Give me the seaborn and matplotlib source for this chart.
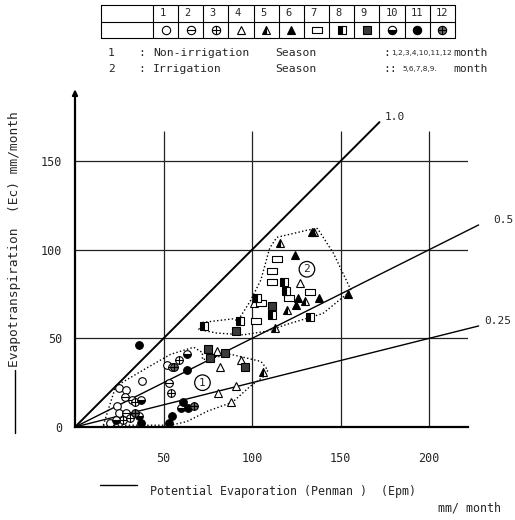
import matplotlib
matplotlib.use('Agg')
import matplotlib.pyplot as plt
from matplotlib.path import Path
from matplotlib.lines import Line2D
import numpy as np
import pandas as pd
import seaborn as sns

sns.set_theme(style='white')
plt.rcParams['font.family'] = ['DejaVu Sans Mono', 'DejaVu Sans']

# ---- data (Epm, Ec in mm/month) ----
point_month = [1, 1, 1, 1, 1, 1, 1,
               2, 2, 2, 2, 2,
               3, 3, 3, 3, 3,
               4, 4, 4, 4, 4, 4, 4, 4,
               5, 5, 5, 5, 5, 5,
               6, 6, 6, 6, 6, 6,
               7, 7, 7, 7, 7, 7, 7,
               8, 8, 8, 8, 8, 8, 8,
               9, 9, 9, 9, 9, 9,
               10, 10, 10, 10, 10,
               11, 11, 11, 11, 11, 11, 11,
               12, 12, 12]
point_epm = [25, 29, 24, 25, 20, 38, 52,
             28, 32, 29, 55, 53,
             34, 27, 31, 59, 54,
             80, 82, 94, 81, 91, 88, 101, 127,
             116, 120, 113, 106, 130, 135,
             134, 124, 126, 138, 125, 154,
             114, 111, 111, 133, 121, 105, 102,
             118, 119, 103, 111, 133, 93, 73,
             111, 91, 75, 85, 76, 96,
             36, 37, 23, 63, 60,
             36, 37, 53, 55, 61, 64, 63,
             67, 34, 56]
point_ec = [22, 21, 12, 8, 2, 26, 35,
            17, 15, 8, 34, 25,
            14, 4, 5, 38, 19,
            43, 34, 38, 19, 23, 14, 70, 81,
            104, 66, 56, 31, 71, 110,
            110, 97, 73, 73, 69, 75,
            95, 88, 82, 76, 73, 70, 60,
            82, 77, 73, 63, 62, 60, 57,
            68, 54, 44, 42, 39, 34,
            6, 15, 4, 41, 11,
            46, 2, 2, 6, 14, 11, 32,
            12, 8, 34]

ratios = [1.0, 0.5, 0.25]
ratio_labels = ['1.0', '0.5', '0.25']
ratio_end_epm = [172, 228, 228]

env1_epm = [16, 23, 40, 54, 67, 72, 72, 88, 105, 109, 106, 99, 89, 75, 63, 54, 30, 16]
env1_ec = [1, 23, 33, 41, 45, 42, 38, 41, 37, 32, 28, 23, 14, 9, 3, 1, 1, 1]
env2_epm = [72, 89, 92, 99, 105, 110, 114, 131, 137, 146, 156, 140, 120, 108, 95, 80, 70, 72]
env2_ec = [59, 61, 60, 71, 83, 101, 107, 111, 112, 98, 77, 64, 58, 54, 52, 53, 55, 59]

x_ticks = [50, 100, 150, 200]
y_ticks = [0, 50, 100, 150]
table_months = list(range(1, 13))

# ---- marker shapes per month ----
M, L, C = Path.MOVETO, Path.LINETO, Path.CLOSEPOLY
hbar = Path([(-1, 0), (1, 0)], [M, L])
vbar = Path([(0, -1), (0, 1)], [M, L])
circle_bar = Path.make_compound_path(Path.unit_circle(), hbar)
circle_cross = Path.make_compound_path(Path.unit_circle(), hbar, vbar)
rect = Path([(-1, -0.65), (1, -0.65), (1, 0.65), (-1, 0.65), (-1, -0.65)], [M, L, L, L, C])

styles = {
    1: dict(marker='o', markerfacecolor='white'),
    2: dict(marker=circle_bar, markerfacecolor='white'),
    3: dict(marker=circle_cross, markerfacecolor='white'),
    4: dict(marker='^', markerfacecolor='white'),
    5: dict(marker='^', fillstyle='left', markerfacecolor='black', markerfacecoloralt='white'),
    6: dict(marker='^', markerfacecolor='black'),
    7: dict(marker=rect, markerfacecolor='white'),
    8: dict(marker='s', fillstyle='left', markerfacecolor='black', markerfacecoloralt='white'),
    9: dict(marker='s', markerfacecolor='#3a3a3a'),
    10: dict(marker='o', fillstyle='bottom', markerfacecolor='black', markerfacecoloralt='white'),
    11: dict(marker='o', markerfacecolor='black'),
    12: dict(marker=circle_cross, markerfacecolor='#6a6a6a'),
}
sizes = {7: 7.0}

df = pd.DataFrame({'month': point_month, 'epm': point_epm, 'ec': point_ec})

W, H = 515, 520
fig = plt.figure(figsize=(W / 100, H / 100), dpi=100)
ax = fig.add_axes([75 / W, 1 - 427 / H, (468 - 75) / W, (427 - 92) / H])
ax.set_xlim(0, 222)
ax.set_ylim(0, 189)

# grid (drawn by hand, it stops short of the top)
ax.hlines([50, 100, 150], 0, 222, color='#222222', lw=0.9)
ax.vlines(x_ticks, 0, 167, color='#222222', lw=0.9)

# ratio lines Ec/Epm
label_dx = [3, 8, 3]
for r, lab, xe, dx in zip(ratios, ratio_labels, ratio_end_epm, label_dx):
    xs = np.array([0, xe])
    ax.plot(xs, r * xs, color='black', lw=1.4 if r == 1.0 else 1.0, clip_on=False)
    ax.text(xe + dx, r * xe, lab, fontsize=8, ha='left', va='bottom', clip_on=False)

# envelopes
ax.plot(env1_epm, env1_ec, ':', color='black', lw=1)
ax.plot(env2_epm, env2_ec, ':', color='black', lw=1)

# points
for m, g in df.groupby('month'):
    ax.plot(g['epm'], g['ec'], linestyle='none', color='black',
            markeredgecolor='black', markeredgewidth=0.8,
            markersize=sizes.get(m, 5.5), clip_on=False, **styles[m])

# circled zone numbers
for txt, (xx, yy) in [('1', (72, 25)), ('2', (131, 89))]:
    ax.text(xx, yy, txt, fontsize=8, ha='center', va='center',
            bbox=dict(boxstyle='circle,pad=0.25', fc='white', ec='black', lw=0.9))

# axes styling
sns.despine(ax=ax)
for s in ['left', 'bottom']:
    ax.spines[s].set_color('black')
    ax.spines[s].set_linewidth(1.6)
ax.set_xticks(x_ticks)
ax.set_yticks(y_ticks)
ax.tick_params(axis='x', length=0, pad=18, labelsize=8.5)
ax.tick_params(axis='y', length=0, pad=9, labelsize=8.5)
ax.annotate('', xy=(0, 192), xytext=(0, 180), annotation_clip=False,
            arrowprops=dict(arrowstyle='-|>', color='black', lw=1.4, mutation_scale=8))

# axis titles
fig.text(15 / W, 1 - 367 / H, 'Evapotranspiration  (Ec) mm/month', rotation=90,
         ha='center', va='bottom', fontsize=9.3)
fig.add_artist(Line2D([15 / W, 15 / W], [1 - 433 / H, 1 - 370 / H], color='black', lw=1))
fig.text(150 / W, 1 - 492 / H, 'Potential Evaporation (Penman )  (Epm)',
         ha='left', va='center', fontsize=8.4)
fig.add_artist(Line2D([100 / W, 137 / W], [1 - 485 / H, 1 - 485 / H], color='black', lw=1))
fig.text(438 / W, 1 - 508 / H, 'mm/ month', ha='left', va='center', fontsize=8.4)

# legend table
tab = fig.add_axes([101 / W, 1 - 38 / H, (455 - 101) / W, 33 / H])
first = 52 / 25.2
tab.set_xlim(-first, 12)
tab.set_ylim(0, 2)
tab.axis('off')
for xv in [-first] + list(range(0, 13)):
    tab.plot([xv, xv], [0, 2], color='black', lw=0.8, clip_on=False)
for yv in [0, 1, 2]:
    tab.plot([-first, 12], [yv, yv], color='black', lw=0.8, clip_on=False)
for i, m in enumerate(table_months):
    tab.text(i + 0.25, 1.5, str(m), fontsize=7.5, ha='left', va='center')
    tab.plot([i + 0.5], [0.5], linestyle='none', color='black', markeredgecolor='black',
             markeredgewidth=0.8, markersize=sizes.get(m, 5.5) + 0.5, **styles[m])

fig.text(108 / W, 1 - 53 / H, '1', fontsize=8.2, va='center')
fig.text(108 / W, 1 - 69 / H, '2', fontsize=8.2, va='center')
fig.text(138 / W, 1 - 53 / H, ':', fontsize=8.2, va='center')
fig.text(138 / W, 1 - 69 / H, ':', fontsize=8.2, va='center')
fig.text(153 / W, 1 - 53 / H, 'Non-irrigation', fontsize=8.2, va='center')
fig.text(153 / W, 1 - 69 / H, 'Irrigation', fontsize=8.2, va='center')
fig.text(275 / W, 1 - 53 / H, 'Season', fontsize=8.2, va='center')
fig.text(275 / W, 1 - 69 / H, 'Season', fontsize=8.2, va='center')
fig.text(383 / W, 1 - 53 / H, ':', fontsize=8.2, va='center')
fig.text(383 / W, 1 - 69 / H, '::', fontsize=8.2, va='center')
fig.text(391 / W, 1 - 53 / H, '1,2,3,4,10,11,12', fontsize=5.3, va='center',
         family='DejaVu Sans')
fig.text(402 / W, 1 - 69 / H, '5,6,7,8,9.', fontsize=5.3, va='center', family='DejaVu Sans')
fig.text(453 / W, 1 - 53 / H, 'month', fontsize=8.2, va='center')
fig.text(453 / W, 1 - 69 / H, 'month', fontsize=8.2, va='center')

fig.savefig('out.png', dpi=100)
